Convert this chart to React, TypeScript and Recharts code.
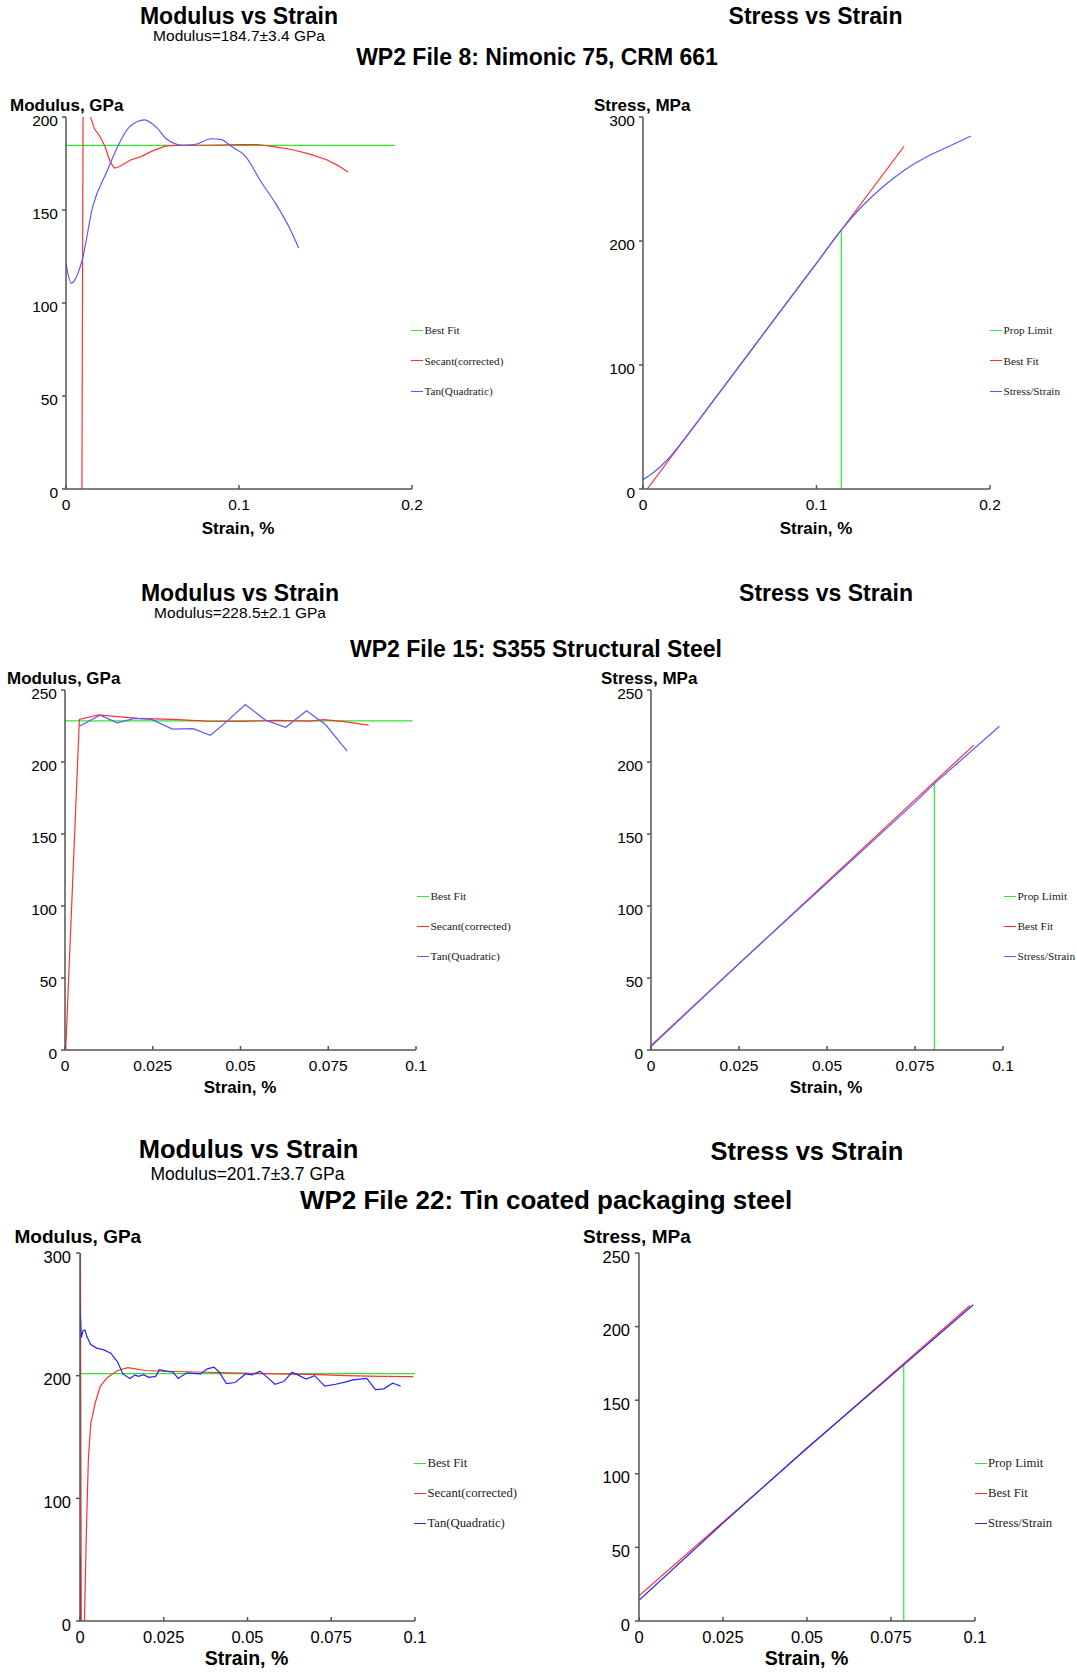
import React from 'react';
import { LineChart, Line, XAxis, YAxis, Legend } from 'recharts';

const SANS = '"Liberation Sans", Arial, Helvetica, sans-serif';
const SERIF = '"Liberation Serif", "Times New Roman", serif';

// ---- WP2 File 8: Nimonic 75, CRM 661 ----
const nimBestFit = [[0, 184.7], [0.19, 184.7]];
const nimSecant = [
  [0.0092, 0], [0.0106, 420], [0.0142, 200], [0.0165, 193.5], [0.0195, 189.8], [0.0225, 184.3],
  [0.0255, 176], [0.0279, 172.6], [0.0304, 173.1], [0.0374, 176.9], [0.0434, 178.7], [0.0494, 181.5],
  [0.0573, 184.3], [0.0653, 184.8], [0.0812, 184.8], [0.1011, 185.2], [0.111, 185.2], [0.121, 183.9],
  [0.131, 182.4], [0.141, 180], [0.151, 176.9], [0.157, 174], [0.163, 170.4],
];
const nimTangent = [
  [0, 121.3], [0.003, 110.7], [0.0092, 122.6], [0.0155, 151.9], [0.0235, 170.4], [0.0314, 187],
  [0.0364, 194.4], [0.0454, 198.5], [0.0523, 194.4], [0.0583, 188], [0.0673, 184.8], [0.0742, 185.2],
  [0.0842, 188.3], [0.0892, 188], [0.097, 183.3], [0.103, 179.6], [0.113, 164.8], [0.121, 153.7],
  [0.129, 140.7], [0.1345, 129.6],
];
const nimPropLimit = [[0.1143, 0], [0.1143, 208.9]];
const nimFit = [[0.0024, 0], [0.1505, 276.4]];
const nimCurve = [
  [0, 7.5], [0.0063, 13.5], [0.0143, 24], [0.0242, 41], [0.04, 70.2], [0.06, 107.5], [0.08, 144.8],
  [0.1, 182], [0.1143, 208.9], [0.127, 229], [0.139, 244.5], [0.151, 257.5], [0.165, 269],
  [0.1786, 277.8], [0.189, 284.7],
];

// ---- WP2 File 15: S355 Structural Steel ----
const s355BestFit = [[0, 228.5], [0.099, 228.5]];
const s355Secant = [
  [0.0002, 0], [0.0041, 229.6], [0.0095, 232.7], [0.0149, 231.5], [0.0208, 230.3], [0.0306, 229.6],
  [0.0404, 228.4], [0.0502, 228.2], [0.06, 228.9], [0.0698, 228.4], [0.0737, 229.4], [0.0796, 228],
  [0.0865, 225.6],
];
const s355Tangent = [
  [0.0041, 224.8], [0.01, 232.5], [0.0149, 227.2], [0.0198, 230.3], [0.0247, 229.6], [0.0306, 222.9],
  [0.0365, 223.2], [0.0414, 218.6], [0.0453, 226.5], [0.0514, 239.9], [0.0571, 229.1], [0.0629, 224.1],
  [0.0688, 235.6], [0.0742, 226], [0.0804, 207.6],
];
const s355PropLimit = [[0.0805, 0], [0.0805, 185.3]];
const s355Fit = [[0, 3.1], [0.0917, 211.7]];
const s355Curve = [[0, 2.4], [0.025, 60], [0.05, 116], [0.075, 172], [0.0805, 185], [0.099, 224.8]];

// ---- WP2 File 22: Tin coated packaging steel ----
const tinBestFit = [[0, 201.7], [0.1, 201.7]];
const tinSecant = [
  [0.0001, 330], [0.0004, -30], [0.0013, -5], [0.0018, 62], [0.0025, 132], [0.0032, 160.6],
  [0.0045, 177.5], [0.0061, 191.5], [0.0082, 198.6], [0.0112, 204.2], [0.0143, 206.5], [0.0195, 204.2],
  [0.0278, 203.4], [0.038, 202.8], [0.0484, 202], [0.0587, 201.4], [0.069, 201.1], [0.0794, 200],
  [0.0897, 199.4], [0.0995, 199.2],
];
const tinSpike = [[0, 0], [0, 55]];
const tinTangent = [
  [0, 259], [0.0004, 231], [0.0009, 236.6], [0.0015, 237.2], [0.002, 232.4], [0.0032, 225.4],
  [0.005, 222.5], [0.0071, 221], [0.0092, 218.3], [0.0112, 211.3], [0.0128, 201.4], [0.0149, 197.7],
  [0.0164, 200.6], [0.0174, 199.4], [0.019, 200.8], [0.0205, 198.6], [0.0226, 199.4], [0.0237, 204.8],
  [0.0257, 203.7], [0.0278, 202.8], [0.0293, 197.7], [0.0319, 202.3], [0.036, 201.4], [0.038, 205.6],
  [0.04, 207], [0.0416, 202.8], [0.0437, 193.5], [0.0463, 194.4], [0.0494, 201.4], [0.0514, 200.6],
  [0.0537, 203.7], [0.0556, 199.4], [0.0582, 193], [0.0608, 195.2], [0.0633, 202.8], [0.0659, 199.4],
  [0.0675, 197.2], [0.07, 200], [0.0731, 191.5], [0.0763, 193], [0.0794, 194.9], [0.0815, 196.6],
  [0.0856, 197.7], [0.0882, 188.7], [0.0907, 189.3], [0.0933, 193.8], [0.0943, 193], [0.0957, 191.5],
];
const tinPropLimit = [[0.0788, 0], [0.0788, 174.2]];
const tinFit = [[0, 17.1], [0.0985, 214.3]];
const tinCurve = [[0, 14.1], [0.025, 66.5], [0.05, 117.5], [0.0788, 174], [0.0995, 214.8]];

// ticks
const xTicksWide = [0, 0.1, 0.2];
const xTicksNarrow = [0, 0.025, 0.05, 0.075, 0.1];
const yTicks200 = [0, 50, 100, 150, 200];
const yTicks250 = [0, 50, 100, 150, 200, 250];
const yTicks300 = [0, 100, 200, 300];

const GREEN = '#2ee62e';
const RED = '#ff3030';
const BLUE = '#5a5aff';
const BLUE_DARK = '#2424ff';

type Series = { name: string; color: string; rows: number[][]; curve?: 'linear' | 'monotone'; hidden?: boolean };

const pts = (rows: number[][]) => rows.map(([x, y]) => ({ x, y }));

const YW = 60;
const MT = 15;
const MR = 170;
const XH = 30;
const axisStyle = { stroke: '#555', strokeWidth: 1.5 };

interface PanelProps {
  px: number; py: number; pw: number; ph: number;
  xTicks: number[]; yTicks: number[];
  series: Series[];
  legendX: number; legendY: number; legendStep: number; legendFont: number;
  tickFont: number; tickGap: number;
}

const Panel = (p: PanelProps) => {
  const left = p.px - YW;
  const top = p.py - MT;
  const names = p.series.map(s => s.name);
  return (
    <div style={{ position: 'absolute', left, top }}>
      <LineChart width={YW + p.pw + MR} height={MT + p.ph + XH} margin={{ top: MT, right: MR, bottom: 0, left: 0 }}>
        <XAxis
          type="number"
          dataKey="x"
          domain={[p.xTicks[0], p.xTicks[p.xTicks.length - 1]]}
          ticks={p.xTicks}
          interval={0}
          allowDataOverflow
          height={XH}
          tickSize={-4}
          tickMargin={19.5}
          axisLine={axisStyle}
          tickLine={axisStyle}
          tick={(t: any) => (
            <text x={t.x} y={t.y} textAnchor="middle" dominantBaseline="central" fontSize={p.tickFont} fontFamily={SANS} fill="#000">
              {t.payload.value}
            </text>
          )}
        />
        <YAxis
          type="number"
          dataKey="y"
          domain={[p.yTicks[0], p.yTicks[p.yTicks.length - 1]]}
          ticks={p.yTicks}
          interval={0}
          allowDataOverflow
          width={YW}
          tickSize={4}
          tickMargin={p.tickGap}
          axisLine={axisStyle}
          tickLine={axisStyle}
          tick={(t: any) => (
            <text x={t.x} y={t.y + 3.5} textAnchor="end" dominantBaseline="central" fontSize={p.tickFont} fontFamily={SANS} fill="#000">
              {t.payload.value}
            </text>
          )}
        />
        <Legend
          layout="vertical"
          align="center"
          verticalAlign="middle"
          wrapperStyle={{ left: p.legendX - left, top: p.legendY - p.legendStep / 2 - top, width: 'auto' }}
          content={({ payload }: any) => (
            <div style={{ fontFamily: SERIF, fontSize: p.legendFont, color: '#222', whiteSpace: 'nowrap' }}>
              {(payload ?? [])
                .filter((e: any) => e.type !== 'none' && names.includes(e.value))
                .sort((a: any, b: any) => names.indexOf(a.value) - names.indexOf(b.value))
                .map((e: any) => (
                  <div key={e.value} style={{ height: p.legendStep, display: 'flex', alignItems: 'center' }}>
                    <span style={{ display: 'inline-block', width: 12, borderTop: `1.4px solid ${e.color}`, marginRight: 1.5 }} />
                    {e.value}
                  </div>
                ))}
            </div>
          )}
        />
        {p.series.map(s => (
          <Line
            key={s.name}
            data={pts(s.rows)}
            dataKey="y"
            name={s.name}
            type={s.curve ?? 'linear'}
            stroke={s.color}
            strokeWidth={1.2}
            dot={false}
            activeDot={false}
            legendType={s.hidden ? 'none' : 'line'}
            isAnimationActive={false}
          />
        ))}
      </LineChart>
    </div>
  );
};

const Txt = ({ cx, left, cy, size, bold, children }: { cx?: number; left?: number; cy: number; size: number; bold?: boolean; children: React.ReactNode }) => (
  <div
    style={{
      position: 'absolute',
      left: cx ?? left,
      top: cy,
      transform: cx !== undefined ? 'translate(-50%, -50%)' : 'translate(0, -50%)',
      fontFamily: SANS,
      fontSize: size,
      fontWeight: bold ? 700 : 400,
      lineHeight: 0.78,
      whiteSpace: 'nowrap',
      color: '#000',
    }}
  >
    {children}
  </div>
);

export default function App() {
  return (
    <div style={{ position: 'absolute', left: 0, top: 0, width: 1077, height: 1672, background: '#fff', overflow: 'hidden' }}>
      {/* Row 1 */}
      <Txt cx={239} cy={16.5} size={23} bold>Modulus vs Strain</Txt>
      <Txt cx={239} cy={36} size={15.5}>Modulus=184.7±3.4 GPa</Txt>
      <Txt cx={537} cy={58} size={23} bold>WP2 File 8: Nimonic 75, CRM 661</Txt>
      <Txt cx={815.5} cy={16.5} size={23} bold>Stress vs Strain</Txt>
      <Txt left={10} cy={105.5} size={17} bold>Modulus, GPa</Txt>
      <Txt left={594} cy={105.5} size={17} bold>Stress, MPa</Txt>
      <Txt cx={238} cy={529} size={17} bold>Strain, %</Txt>
      <Txt cx={816} cy={529} size={17} bold>Strain, %</Txt>
      <Panel
        px={66} py={117} pw={346} ph={372}
        xTicks={xTicksWide} yTicks={yTicks200}
        series={[
          { name: 'Best Fit', color: GREEN, rows: nimBestFit },
          { name: 'Secant(corrected)', color: RED, rows: nimSecant },
          { name: 'Tan(Quadratic)', color: BLUE, rows: nimTangent, curve: 'monotone' },
        ]}
        legendX={411} legendY={330} legendStep={30.5} legendFont={11.2}
        tickFont={15.5} tickGap={4}
      />
      <Panel
        px={643} py={117} pw={347} ph={372}
        xTicks={xTicksWide} yTicks={yTicks300}
        series={[
          { name: 'Prop Limit', color: GREEN, rows: nimPropLimit },
          { name: 'Best Fit', color: RED, rows: nimFit },
          { name: 'Stress/Strain', color: BLUE, rows: nimCurve, curve: 'monotone' },
        ]}
        legendX={990} legendY={330} legendStep={30.5} legendFont={11.2}
        tickFont={15.5} tickGap={4}
      />

      {/* Row 2 */}
      <Txt cx={240} cy={594} size={23} bold>Modulus vs Strain</Txt>
      <Txt cx={240} cy={613} size={15.5}>Modulus=228.5±2.1 GPa</Txt>
      <Txt cx={536} cy={650} size={23} bold>WP2 File 15: S355 Structural Steel</Txt>
      <Txt cx={826} cy={594} size={23} bold>Stress vs Strain</Txt>
      <Txt left={7} cy={678.5} size={17} bold>Modulus, GPa</Txt>
      <Txt left={601} cy={678.5} size={17} bold>Stress, MPa</Txt>
      <Txt cx={240} cy={1088} size={17} bold>Strain, %</Txt>
      <Txt cx={826} cy={1088} size={17} bold>Strain, %</Txt>
      <Panel
        px={65} py={690} pw={351} ph={360}
        xTicks={xTicksNarrow} yTicks={yTicks250}
        series={[
          { name: 'Best Fit', color: GREEN, rows: s355BestFit },
          { name: 'Secant(corrected)', color: RED, rows: s355Secant },
          { name: 'Tan(Quadratic)', color: BLUE, rows: s355Tangent },
        ]}
        legendX={417} legendY={896} legendStep={30} legendFont={11.4}
        tickFont={15.5} tickGap={4}
      />
      <Panel
        px={651} py={690} pw={352} ph={360}
        xTicks={xTicksNarrow} yTicks={yTicks250}
        series={[
          { name: 'Prop Limit', color: GREEN, rows: s355PropLimit },
          { name: 'Best Fit', color: RED, rows: s355Fit },
          { name: 'Stress/Strain', color: BLUE, rows: s355Curve },
        ]}
        legendX={1004} legendY={896} legendStep={30} legendFont={11.4}
        tickFont={15.5} tickGap={4}
      />

      {/* Row 3 */}
      <Txt cx={248.5} cy={1150} size={25.5} bold>Modulus vs Strain</Txt>
      <Txt cx={247.5} cy={1174.5} size={17.5}>Modulus=201.7±3.7 GPa</Txt>
      <Txt cx={546} cy={1200} size={26} bold>WP2 File 22: Tin coated packaging steel</Txt>
      <Txt cx={807} cy={1152} size={25.5} bold>Stress vs Strain</Txt>
      <Txt left={14.5} cy={1237} size={19} bold>Modulus, GPa</Txt>
      <Txt left={583} cy={1237} size={19} bold>Stress, MPa</Txt>
      <Txt cx={246.5} cy={1659} size={19.5} bold>Strain, %</Txt>
      <Txt cx={806.5} cy={1659} size={19.5} bold>Strain, %</Txt>
      <Panel
        px={80} py={1253} pw={335} ph={368}
        xTicks={xTicksNarrow} yTicks={yTicks300}
        series={[
          { name: 'Best Fit', color: GREEN, rows: tinBestFit },
          { name: 'Secant(corrected)', color: RED, rows: tinSecant },
          { name: 'Tan(Quadratic)', color: BLUE_DARK, rows: tinTangent },
          { name: 'spike', color: '#7a0010', rows: tinSpike, hidden: true },
        ]}
        legendX={414} legendY={1463} legendStep={30} legendFont={12.7}
        tickFont={16.5} tickGap={5}
      />
      <Panel
        px={638.5} py={1253} pw={336} ph={368}
        xTicks={xTicksNarrow} yTicks={yTicks250}
        series={[
          { name: 'Prop Limit', color: GREEN, rows: tinPropLimit },
          { name: 'Best Fit', color: RED, rows: tinFit },
          { name: 'Stress/Strain', color: BLUE_DARK, rows: tinCurve },
        ]}
        legendX={974.5} legendY={1463} legendStep={30} legendFont={12.7}
        tickFont={16.5} tickGap={5}
      />
    </div>
  );
}
